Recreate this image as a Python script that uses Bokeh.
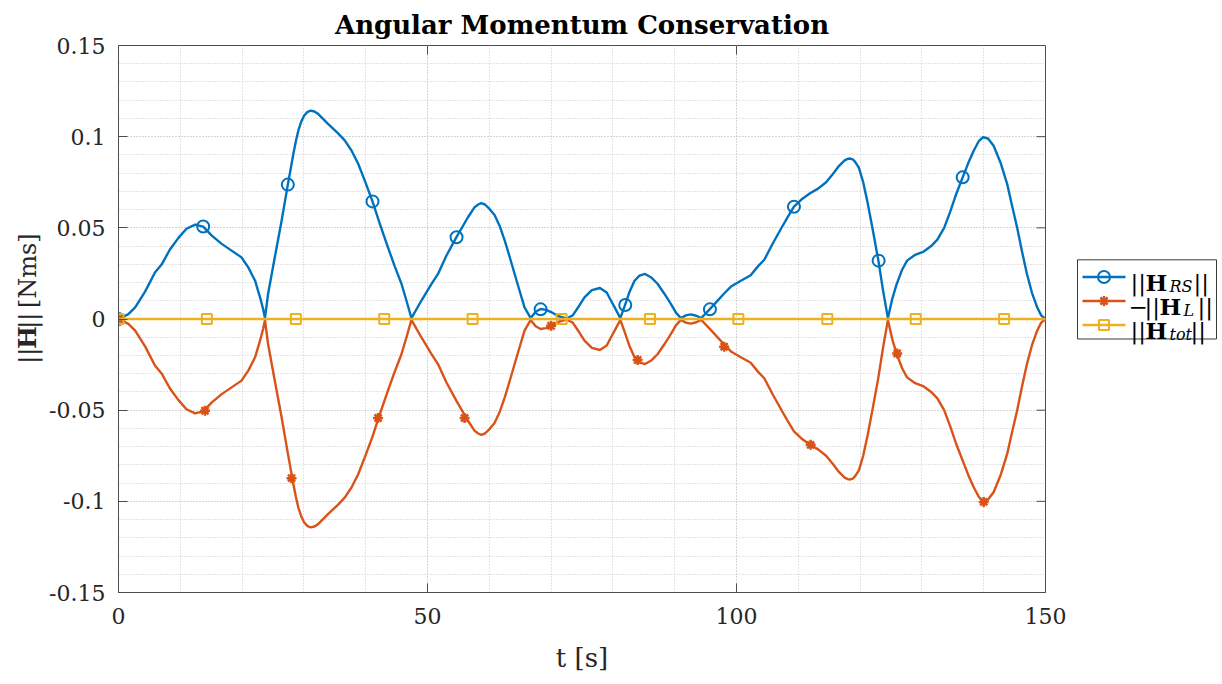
import numpy as np
from bokeh.plotting import figure
from bokeh.models import Range1d, FixedTicker, CustomJSTickFormatter
from bokeh.layouts import row
from bokeh.core.properties import value
from bokeh.embed import file_html
from bokeh.resources import INLINE

# ---------------------------------------------------------------- data
# time samples [s] and magnitude of the reaction-sphere angular momentum [Nms]
t_curve = [0, 1.6, 2.7, 4.3, 5.9, 7.0, 8.3, 9.7, 11.0, 12.4, 13.7, 15.1, 16.7, 18.3,
           19.9, 21.0, 22.1, 22.9, 23.4, 23.7, 24.2, 25.3, 26.4, 27.4, 28.3, 28.7, 29.1,
           29.6, 30.05, 30.6, 31.1, 31.7, 32.3, 33.9, 35.5, 36.6, 37.7, 38.8, 39.85, 41.1,
           42.3, 43.6, 44.7, 45.8, 46.6, 47.4, 49.0, 50.6, 51.7, 53.05, 54.66, 56.55, 57.6,
           58.2, 58.7, 59.3, 60.0, 60.85, 61.66, 62.5, 63.3, 64.1, 64.9, 65.7, 66.7, 67.5,
           68.3, 69.2, 70.0, 71.2, 72.5, 73.5, 74.5, 75.4, 76.6, 77.9, 79.0, 79.7, 80.5,
           81.2, 81.97, 82.7, 83.5, 84.3, 85.2, 86.2, 87.25, 88.3, 89.4, 90.2, 91.0, 91.8,
           92.6, 93.5, 94.3, 95.0, 95.65, 96.8, 98.0, 99.1, 100.7, 102.3, 103.5, 104.5,
           105.8, 107.2, 108.3, 109.3, 110.5, 111.9, 113.2, 114.5, 115.6, 116.6, 117.5,
           118.0, 118.4, 118.8, 119.2, 119.8, 120.5, 121.2, 122.1, 122.96, 123.7, 124.5,
           125.2, 125.9, 126.8, 127.6, 128.8, 130.3, 131.5, 132.5, 133.6, 134.6, 135.6,
           136.6, 137.5, 138.4, 139.2, 139.9, 140.7, 141.6, 142.7, 143.8, 144.6, 145.4,
           146.2, 147.0, 147.8, 148.65, 149.3, 150.0]
h_rs = [0, 0.0027, 0.0064, 0.015, 0.0255, 0.030, 0.038, 0.0445, 0.0495, 0.0518, 0.0507,
        0.0457, 0.0412, 0.0375, 0.0338, 0.0283, 0.021, 0.0119, 0.0055, 0.0005, 0.0137,
        0.034, 0.054, 0.0737, 0.0906, 0.0975, 0.1034, 0.1085, 0.1116, 0.1136, 0.1143,
        0.1138, 0.1125, 0.107, 0.1019, 0.098, 0.0924, 0.085, 0.0759, 0.0645, 0.0521,
        0.0393, 0.0289, 0.0192, 0.010, 0.0005, 0.010, 0.019, 0.0247, 0.0347, 0.0448,
        0.0558, 0.0612, 0.0628, 0.0635, 0.0628, 0.0605, 0.0570, 0.0512, 0.043, 0.034,
        0.0247, 0.0155, 0.0064, 0.0005, 0.004, 0.0055, 0.005, 0.0038, 0.0015, 0.0003,
        0.002, 0.007, 0.0119, 0.0158, 0.017, 0.0145, 0.010, 0.005, 0.0005, 0.0077, 0.015,
        0.021, 0.0238, 0.0247, 0.0228, 0.0192, 0.014, 0.0082, 0.0035, 0.0005, 0.002,
        0.0025, 0.0018, 0.0005, 0.003, 0.0053, 0.0095, 0.014, 0.0178, 0.021, 0.024,
        0.029, 0.0325, 0.041, 0.0495, 0.056, 0.0616, 0.0655, 0.069, 0.0715, 0.075,
        0.0795, 0.084, 0.087, 0.0878, 0.088, 0.0876, 0.0862, 0.083, 0.075, 0.064, 0.048,
        0.032, 0.016, 0.0005, 0.011, 0.019, 0.027, 0.032, 0.035, 0.037, 0.040, 0.0435,
        0.050, 0.059, 0.069, 0.0777, 0.0855, 0.0924, 0.0975, 0.0997, 0.099, 0.095,
        0.086, 0.074, 0.062, 0.0503, 0.037, 0.0247, 0.0145, 0.0064, 0.002, 0.0]
# the link carries the opposite momentum, so its magnitude follows the same samples
h_l = h_rs
# total momentum of the system
t_tot = [0, 150]
h_tot = [0, 0]

# marker samples of each series
mk_rs_t = [0, 13.7, 27.4, 41.1, 54.7, 68.3, 82.0, 95.7, 109.3, 123.0, 136.6]
mk_rs_h = [0, 0.0507, 0.0737, 0.0645, 0.0448, 0.0053, 0.0077, 0.0053, 0.0616, 0.032, 0.0777]
mk_l_t = [0, 14, 28, 42, 56, 70, 84, 98, 112, 126, 140]
mk_l_h = [0, 0.0503, 0.0873, 0.0543, 0.0543, 0.0037, 0.0225, 0.0152, 0.069, 0.0189, 0.1003]
mk_tot_t = [0, 14.3, 28.7, 43.0, 57.3, 71.7, 86.0, 100.3, 114.7, 129.0, 143.3]
mk_tot_h = [0, 0, 0, 0, 0, 0, 0, 0, 0, 0, 0]

x_ticks = [0, 50, 100, 150]
x_tick_labels = ["0", "50", "100", "150"]
y_ticks = [-0.15, -0.1, -0.05, 0, 0.05, 0.1, 0.15]
y_tick_labels = ["-0.15", "-0.1", "-0.05", "0", "0.05", "0.1", "0.15"]

# ---------------------------------------------------------------- style
BLUE, ORANGE, YELLOW = "#0072BD", "#D95319", "#EDB120"
SERIF = "DejaVu Serif"
AXC = "#4d4d4d"
GRIDC = "#c8c8c8"
LINE_W = 2.4

FRAME_W, FRAME_H = 928, 547
X0, X1, Y0, Y1 = 0, 150, -0.15, 0.15

p = figure(width=71 + FRAME_W + 22, height=684,
           x_range=Range1d(X0, X1), y_range=Range1d(Y0, Y1),
           min_border_left=71, min_border_right=22, min_border_top=45,
           min_border_bottom=92, output_backend="svg", toolbar_location=None)

p.title.text = "Angular Momentum Conservation"
p.title.align = "center"
p.title.text_font = SERIF
p.title.text_font_size = "26px"
p.title.text_font_style = "bold"
p.title.text_color = "black"
p.title.standoff = 11

def fmt(tick_vals, tick_texts):
    return CustomJSTickFormatter(args=dict(tv=tick_vals, tt=tick_texts), code="""
        for (let i = 0; i < tv.length; i++) {
            if (Math.abs(tv[i] - tick) < 1e-9) return tt[i];
        }
        return "";
    """)

p.xaxis.ticker = FixedTicker(ticks=x_ticks, minor_ticks=list(range(0, 151, 10)))
p.yaxis.ticker = FixedTicker(ticks=y_ticks,
                             minor_ticks=[round(-0.15 + 0.01 * i, 2) for i in range(31)])
p.xaxis.formatter = fmt(x_ticks, x_tick_labels)
p.yaxis.formatter = fmt(y_ticks, y_tick_labels)

for ax in (p.xaxis[0], p.yaxis[0]):
    ax.axis_line_color = AXC
    ax.major_tick_line_color = AXC
    ax.major_tick_in = 9
    ax.major_tick_out = 0
    ax.minor_tick_line_color = None
    ax.major_label_text_font = SERIF
    ax.major_label_text_font_size = "22px"
    ax.major_label_text_color = "#262626"
p.xaxis.major_label_standoff = 11
p.yaxis.major_label_standoff = 9
p.xaxis.axis_label = "t [s]"
p.xaxis.axis_label_text_font = SERIF
p.xaxis.axis_label_text_font_size = "26px"
p.xaxis.axis_label_text_font_style = "normal"
p.xaxis.axis_label_text_color = "#262626"
p.xaxis.axis_label_standoff = 16

for g in (p.xgrid[0], p.ygrid[0]):
    g.grid_line_color = GRIDC
    g.grid_line_dash = "1 2"
    g.minor_grid_line_color = GRIDC
    g.minor_grid_line_dash = "1 2"

p.outline_line_color = AXC
p.outline_line_width = 1
p.background_fill_color = "white"
p.border_fill_color = "white"

# box ticks on the top and right edges
tick_dx = 9 * (X1 - X0) / FRAME_W
tick_dy = 9 * (Y1 - Y0) / FRAME_H
top_t = x_ticks[1:-1]
p.segment(x0=top_t, y0=[Y1] * len(top_t), x1=top_t, y1=[Y1 - tick_dy] * len(top_t),
          line_color=AXC, line_width=1)
right_t = y_ticks[1:-1]
p.segment(x0=[X1] * len(right_t), y0=right_t, x1=[X1 - tick_dx] * len(right_t), y1=right_t,
          line_color=AXC, line_width=1)

# series
p.line(t_curve, h_rs, line_color=BLUE, line_width=LINE_W, line_join="round")
p.scatter(mk_rs_t, mk_rs_h, marker="circle", size=12, line_color=BLUE,
          fill_color=None, line_width=2)
p.line(t_curve, [-v for v in h_l], line_color=ORANGE, line_width=LINE_W, line_join="round")
p.scatter(mk_l_t, [-v for v in mk_l_h], marker="asterisk", size=10, line_color=ORANGE,
          line_width=2.5)
p.line(t_tot, h_tot, line_color=YELLOW, line_width=LINE_W)
p.scatter(mk_tot_t, mk_tot_h, marker="square", size=10, line_color=YELLOW,
          fill_color=None, line_width=2)

# ---------------------------------------------------------------- y label panel
YL_W, H = 46, 684
yl = figure(width=YL_W, height=H, x_range=Range1d(0, YL_W), y_range=Range1d(0, H),
            x_axis_type=None, y_axis_type=None, min_border=0,
            output_backend="svg", toolbar_location=None)
yl.grid.visible = False
yl.outline_line_color = None
YFS = 24
ys = H - 398
pieces = [("||", "normal", 0.78), ("H", "bold", 1.04), ("||", "normal", 1.08),
          ("[Nms]", "normal", 0)]
# rotated a quarter turn so the label reads upwards
for txt, style, adv in pieces:
    yl.text(x=[27], y=[ys], text=[txt], angle=np.pi / 2, text_font=value(SERIF),
            text_font_size=f"{YFS}px", text_font_style=style, text_color="#262626",
            text_baseline="middle", text_align="left")
    ys += adv * YFS

# ---------------------------------------------------------------- legend panel
LW = 1222 - YL_W - (71 + FRAME_W + 22)
lg = figure(width=LW, height=H, x_range=Range1d(0, LW), y_range=Range1d(H, 0),
            x_axis_type=None, y_axis_type=None, min_border=0,
            output_backend="svg", toolbar_location=None)
lg.grid.visible = False
lg.outline_line_color = None
lg.quad(left=[10], right=[149], top=[268], bottom=[367], fill_color="white",
        line_color="#3a3a3a", line_width=1)

rows_y = [289.5, 319.5, 349.5]
specs = [(BLUE, "circle", 12, None), (ORANGE, "asterisk", 10, None), (YELLOW, "square", 10, None)]
for yy, (c, m, s, f) in zip(rows_y, specs):
    lg.line([15, 58], [yy, yy], line_color=c, line_width=LINE_W)
    lg.scatter([36.5], [yy], marker=m, size=s, line_color=c, fill_color=f,
               line_width=2.5 if m == "asterisk" else 2)

LFS = "23px"
SFS = "16px"
label_parts = [
    [("||", "normal", 63, 0, LFS), ("H", "bold", 78, 0, LFS), ("RS", "italic", 102, 5, SFS),
     ("||", "normal", 126, 0, LFS)],
    [("\u2212", "normal", 61, 0, LFS), ("||", "normal", 77, 0, LFS), ("H", "bold", 92, 0, LFS),
     ("L", "italic", 116, 5, SFS), ("||", "normal", 130, 0, LFS)],
    [("||", "normal", 63, 0, LFS), ("H", "bold", 78, 0, LFS), ("tot", "italic", 102, 5, SFS),
     ("||", "normal", 123, 0, LFS)],
]
for yy, parts in zip(rows_y, label_parts):
    for txt, style, xx, dy, fs in parts:
        lg.text(x=[xx], y=[yy + 7 + dy], text=[txt], text_font=value(SERIF),
                text_font_size=fs, text_font_style=style, text_color="black",
                text_baseline="alphabetic", text_align="left")

layout = row(yl, p, lg, spacing=0)
open("out.html", "w").write(file_html(layout, INLINE))
